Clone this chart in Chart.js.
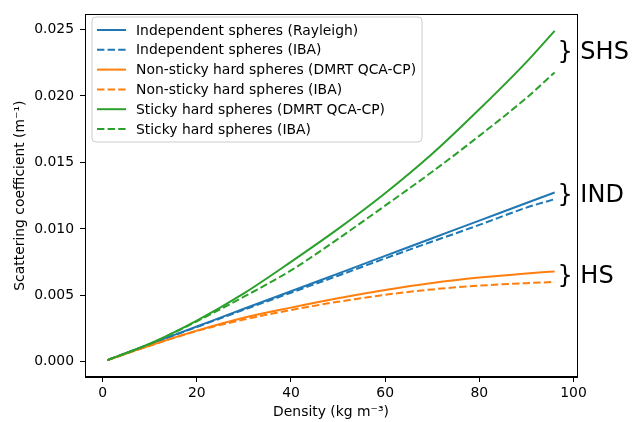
<!DOCTYPE html>
<html lang="en">
<head>
    <meta charset="UTF-8" />
    <title>Scattering coefficient vs density</title>
    <script src="https://cdn.jsdelivr.net/npm/chart.js"></script>
    <style>
        html, body { margin: 0; padding: 0; background: #fff; }
        #wrap { width: 639px; height: 422px; }
    </style>
</head>
<body>
    <div id="wrap"><canvas id="scatChart" width="639" height="422"></canvas></div>
    <script>
        // densities (kg m^-3)
        const density = [1, 10, 20, 30, 40, 50, 60, 70, 80, 90, 96];

        // scattering coefficients (m^-1)
        const indRayleigh = [0.00013, 0.00133, 0.00266, 0.00399, 0.00531, 0.00664, 0.00797, 0.00930, 0.01062, 0.01195, 0.01274];
        const indIba = [0.00013, 0.00132, 0.00262, 0.00392, 0.00520, 0.00648, 0.00778, 0.00905, 0.01030, 0.01160, 0.01224];
        const hsDmrt = [0.00013, 0.00122, 0.00235, 0.00332, 0.00408, 0.00478, 0.00540, 0.00593, 0.00634, 0.00665, 0.00680];
        const hsIba = [0.00013, 0.00121, 0.00232, 0.00318, 0.00390, 0.00452, 0.00504, 0.00545, 0.00573, 0.00592, 0.00601];
        const shsDmrt = [0.00013, 0.00136, 0.00310, 0.00515, 0.00752, 0.01000, 0.01268, 0.01565, 0.01900, 0.02255, 0.02490];
        const shsIba = [0.00013, 0.00134, 0.00305, 0.00490, 0.00688, 0.00925, 0.01175, 0.01430, 0.01700, 0.01985, 0.02177];

        const seriesLabels = [
            'Independent spheres (Rayleigh)',
            'Independent spheres (IBA)',
            'Non-sticky hard spheres (DMRT QCA-CP)',
            'Non-sticky hard spheres (IBA)',
            'Sticky hard spheres (DMRT QCA-CP)',
            'Sticky hard spheres (IBA)'
        ];

        const xTicks = [0, 20, 40, 60, 80, 100];
        const yTicks = [0, 0.005, 0.010, 0.015, 0.020, 0.025];

        // group labels on the right
        const groupLabels = ['} SHS', '} IND', '} HS'];
        const groupX = 96.6;
        const groupY = [0.0228, 0.0120, 0.0059];

        const BLUE = '#1f77b4', ORANGE = '#ff7f0e', GREEN = '#2ca02c';
        const FONT = '"DejaVu Sans", sans-serif';
        const DASH = [7.4, 3.2];

        const seriesValues = [indRayleigh, indIba, hsDmrt, hsIba, shsDmrt, shsIba];
        const seriesColors = [BLUE, BLUE, ORANGE, ORANGE, GREEN, GREEN];
        const seriesDashed = [false, true, false, true, false, true];

        const datasets = seriesValues.map((vals, i) => ({
            label: seriesLabels[i],
            data: density.map((d, j) => ({ x: d, y: vals[j] })),
            borderColor: seriesColors[i],
            backgroundColor: seriesColors[i],
            borderWidth: 2,
            borderDash: seriesDashed[i] ? DASH : [],
            pointRadius: 0,
            cubicInterpolationMode: 'monotone',
            fill: false,
            order: seriesValues.length - i
        }));

        // frame, legend box inside the axes and group labels
        const extras = {
            id: 'extras',
            afterDatasetsDraw(chart) {
                const ctx = chart.ctx;
                const a = chart.chartArea;
                ctx.save();

                // legend
                const bx = 92, by = 17, bw = 330, bh = 125, r = 4;
                ctx.beginPath();
                ctx.moveTo(bx + r, by);
                ctx.arcTo(bx + bw, by, bx + bw, by + bh, r);
                ctx.arcTo(bx + bw, by + bh, bx, by + bh, r);
                ctx.arcTo(bx, by + bh, bx, by, r);
                ctx.arcTo(bx, by, bx + bw, by, r);
                ctx.closePath();
                ctx.fillStyle = 'rgba(255,255,255,0.8)';
                ctx.fill();
                ctx.strokeStyle = '#cccccc';
                ctx.lineWidth = 1;
                ctx.stroke();

                ctx.font = '13.9px ' + FONT;
                ctx.textBaseline = 'middle';
                ctx.textAlign = 'left';
                chart.data.datasets.forEach((ds, i) => {
                    const y = 30 + i * 19.8;
                    ctx.beginPath();
                    ctx.setLineDash(ds.borderDash);
                    ctx.strokeStyle = ds.borderColor;
                    ctx.lineWidth = 2;
                    ctx.moveTo(97, y);
                    ctx.lineTo(126, y);
                    ctx.stroke();
                    ctx.setLineDash([]);
                    ctx.fillStyle = '#000';
                    ctx.fillText(ds.label, 136, y + 1);
                });

                // frame
                ctx.strokeStyle = '#000';
                ctx.lineWidth = 1;
                ctx.strokeRect(Math.round(a.left) + 0.5, Math.round(a.top) + 0.5,
                    Math.round(a.right - a.left), Math.round(a.bottom - a.top));

                // group labels
                const xs = chart.scales.x, ys = chart.scales.y;
                ctx.font = '24px ' + FONT;
                ctx.textBaseline = 'alphabetic';
                ctx.fillStyle = '#000';
                groupLabels.forEach((t, i) => {
                    ctx.fillText(t, xs.getPixelForValue(groupX), ys.getPixelForValue(groupY[i]));
                });
                ctx.restore();
            }
        };

        Chart.defaults.font.family = FONT;
        Chart.defaults.font.size = 13.9;
        Chart.defaults.color = '#000';

        new Chart(document.getElementById('scatChart').getContext('2d'), {
            type: 'line',
            data: { datasets: datasets },
            options: {
                responsive: false,
                animation: false,
                layout: { padding: { left: 0, right: 62, top: 10, bottom: 0 } },
                plugins: {
                    legend: { display: false },
                    tooltip: { enabled: false }
                },
                scales: {
                    x: {
                        type: 'linear',
                        min: -3.75,
                        max: 100.75,
                        afterBuildTicks: s => { s.ticks = xTicks.map(v => ({ value: v })); },
                        afterFit: s => { s.height = 45; },
                        grid: { drawOnChartArea: false, drawTicks: true, tickLength: 5, color: '#000' },
                        border: { display: true, color: '#000' },
                        ticks: { padding: 3, maxRotation: 0, callback: v => String(v) },
                        title: { display: true, text: 'Density (kg m⁻³)', padding: { top: 0, bottom: 1 } }
                    },
                    y: {
                        type: 'linear',
                        min: -0.00114,
                        max: 0.02614,
                        afterBuildTicks: s => { s.ticks = yTicks.map(v => ({ value: v })); },
                        afterFit: s => { s.width = 85; },
                        grid: { drawOnChartArea: false, drawTicks: true, tickLength: 5, color: '#000' },
                        border: { display: true, color: '#000' },
                        ticks: { padding: 6, callback: v => v.toFixed(3) },
                        title: { display: true, text: 'Scattering coefficient (m⁻¹)', padding: { top: 12, bottom: 0 } }
                    }
                }
            },
            plugins: [extras]
        });
    </script>
</body>
</html>
